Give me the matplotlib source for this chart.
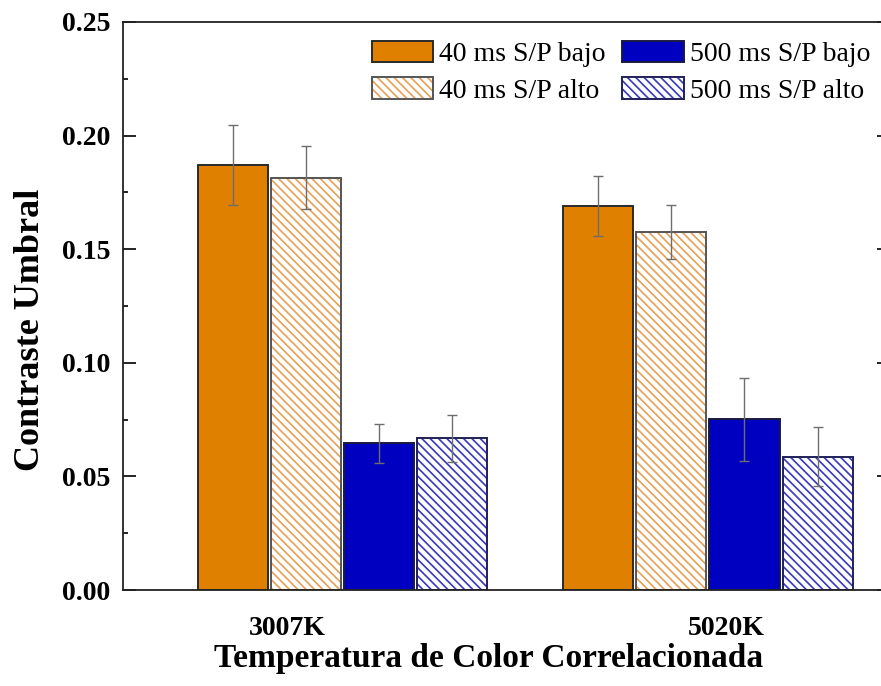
import matplotlib
matplotlib.use("Agg")
import matplotlib.pyplot as plt
import numpy as np
from matplotlib.patches import Patch
from matplotlib.ticker import MultipleLocator

plt.rcParams['font.family'] = ['Liberation Serif', 'DejaVu Serif']
plt.rcParams['hatch.linewidth'] = 1.2

# datos
temperaturas = ['3007K', '5020K']
series = ['40 ms S/P bajo', '40 ms S/P alto', '500 ms S/P bajo', '500 ms S/P alto']
contraste_40_bajo = [0.187, 0.169]
contraste_40_alto = [0.1815, 0.1576]
contraste_500_bajo = [0.0646, 0.0751]
contraste_500_alto = [0.0668, 0.0587]
error_40_bajo = [0.0177, 0.0132]
error_40_alto = [0.0140, 0.0120]
error_500_bajo = [0.0085, 0.0182]
error_500_alto = [0.0104, 0.0131]

valores = [contraste_40_bajo, contraste_40_alto, contraste_500_bajo, contraste_500_alto]
errores = [error_40_bajo, error_40_alto, error_500_bajo, error_500_alto]

relleno = ['#E08000', 'white', '#0000C0', 'white']
rayado = [None, '\\' * 4, None, '\\' * 4]
color_rayado = [None, '#E6A055', None, '#3838BE']
borde = ['#2a2a2a', '#555555', '#1a1a40', '#20205a']

fig = plt.figure(figsize=(8.81, 6.86), dpi=100)
ax = fig.add_axes([123/881, 96/686, 767/881, 568/686])

x = np.arange(len(temperaturas))
ancho = 0.1915
desplaz = [-0.3, -0.1, 0.1, 0.3]

handles = []
for i in range(4):
    xs = x + desplaz[i]
    if rayado[i] is None:
        ax.bar(xs, valores[i], ancho, color=relleno[i], edgecolor=borde[i],
               linewidth=1.4, zorder=2)
        handles.append(Patch(facecolor=relleno[i], edgecolor=borde[i], linewidth=1.4))
    else:
        ax.bar(xs, valores[i], ancho, color='white', edgecolor=color_rayado[i],
               hatch=rayado[i], linewidth=0, zorder=2)
        ax.bar(xs, valores[i], ancho, color='none', edgecolor=borde[i],
               linewidth=1.4, zorder=2.1)
        handles.append((Patch(facecolor='white', edgecolor=color_rayado[i],
                              hatch=rayado[i], linewidth=0),
                        Patch(facecolor='none', edgecolor=borde[i], linewidth=1.4)))
    ax.errorbar(xs, valores[i], yerr=errores[i], fmt='none', ecolor='#6e6e6e',
                elinewidth=1.0, capsize=3.6, capthick=1.0, zorder=3)

ax.set_xlim(-0.600, 1.498)
ax.set_ylim(0, 0.25)
ax.yaxis.set_major_locator(MultipleLocator(0.05))
ax.yaxis.set_minor_locator(MultipleLocator(0.025))
ax.set_yticklabels(['%.2f' % v for v in ax.get_yticks()])
ax.set_xticks([-0.15, 1.05])
ax.set_xticklabels(temperaturas)

ax.tick_params(axis='y', which='both', direction='in', left=True, right=True,
               width=1.2, labelsize=20, pad=9)
ax.tick_params(axis='y', which='major', length=9.4)
ax.tick_params(axis='y', which='minor', length=3.6)
ax.tick_params(axis='x', length=0, labelsize=20, pad=19)
for lab in ax.get_xticklabels() + ax.get_yticklabels():
    lab.set_fontweight('bold')

for s in ax.spines.values():
    s.set_linewidth(1.3)
    s.set_color('#222222')

ax.set_ylabel('Contraste Umbral', fontsize=26, fontweight='bold')
ax.yaxis.set_label_coords(-0.0995, 0.458)
ax.set_xlabel('Temperatura de Color Correlacionada', fontsize=24, fontweight='bold')
ax.xaxis.set_label_coords(0.476, -0.094)

ax.legend(handles, series, ncol=2, loc='upper left',
          bbox_to_anchor=(372/881, 1 - 40.5/686), bbox_transform=fig.transFigure,
          frameon=False, fontsize=20, borderpad=0, borderaxespad=0,
          handlelength=2.2, handleheight=0.83, handletextpad=0.22,
          columnspacing=0.6, labelspacing=0.36)

fig.savefig('out.png', dpi=100)
